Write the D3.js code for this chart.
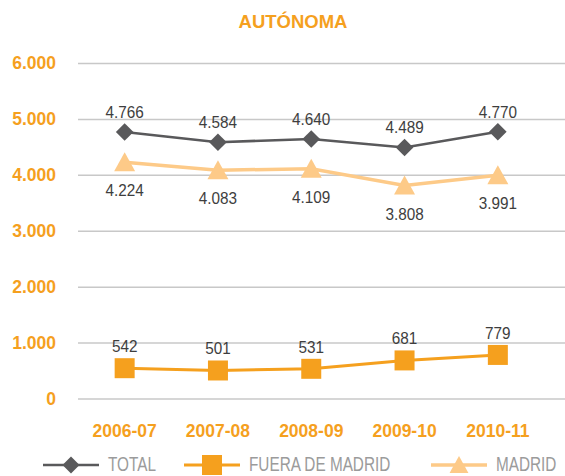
<!DOCTYPE html>
<html>
<head>
<meta charset="utf-8">
<script src="https://cdn.jsdelivr.net/npm/d3@7"></script>
<style>
  body { margin: 0; background: #fff; }
  svg { display: block; }
</style>
</head>
<body>
<div id="canvas"></div>
<script>
// chart data
var categories = ["2006-07", "2007-08", "2008-09", "2009-10", "2010-11"];
var total = [4766, 4584, 4640, 4489, 4770];
var fuera = [542, 501, 531, 681, 779];
var madrid = [4224, 4083, 4109, 3808, 3991];
var yTicks = [0, 1000, 2000, 3000, 4000, 5000, 6000];
var seriesNames = ["TOTAL", "FUERA DE MADRID", "MADRID"];

var W = 565, H = 476;
var ORANGE = "#F5A01E", DARK = "#59595B", LIGHT = "#FDCA88";
var FONT = "'Liberation Sans', Arial, sans-serif";

var es = d3.formatLocale({decimal: ",", thousands: ".", grouping: [3], currency: ["", "€"]});
var fmt = es.format(",d");

var svg = d3.select("#canvas").append("svg")
    .attr("width", W).attr("height", H);

var x = d3.scaleBand().domain(categories).range([78, 544.5]);
var y = d3.scaleLinear().domain([0, 6000]).range([398.5, 63]);
function cx(d, i) { return x(categories[i]) + x.bandwidth() / 2; }

// title
svg.append("text")
    .attr("x", 293).attr("y", 28)
    .attr("text-anchor", "middle")
    .attr("font-family", FONT)
    .attr("font-weight", "bold")
    .attr("font-size", 18.5)
    .attr("fill", ORANGE)
    .text("AUTÓNOMA");

// y axis + grid
var yAxis = svg.append("g")
    .attr("transform", "translate(78,0)")
    .call(d3.axisLeft(y).tickValues(yTicks).tickFormat(fmt).tickSize(-(W - 78)).tickPadding(22));
yAxis.select(".domain").remove();
yAxis.selectAll(".tick line").attr("stroke", "#C8C8C8").attr("stroke-width", 1.5);
yAxis.selectAll(".tick text")
    .attr("font-family", FONT)
    .attr("font-weight", "bold")
    .attr("font-size", 17.5)
    .attr("fill", ORANGE);

// x labels
var xAxis = svg.append("g")
    .attr("transform", "translate(0,398.5)")
    .call(d3.axisBottom(x).tickSize(0).tickPadding(26));
xAxis.select(".domain").remove();
xAxis.selectAll(".tick text")
    .attr("font-family", FONT)
    .attr("font-weight", "bold")
    .attr("font-size", 17.5)
    .attr("fill", ORANGE);

var line = d3.line().x(cx).y(function (d) { return y(d); });

function diamond(s) { return "M0," + (-s) + "L" + s + ",0L0," + s + "L" + (-s) + ",0Z"; }
function square(s) { return "M" + (-s) + "," + (-s) + "h" + (2 * s) + "v" + (2 * s) + "h" + (-2 * s) + "Z"; }
function triangle(s) { return "M0," + (-s) + "L" + (s * 1.05) + "," + (s * 0.9) + "L" + (-s * 1.05) + "," + (s * 0.9) + "Z"; }

var series = [
  {name: seriesNames[1], values: fuera, color: ORANGE, width: 3, shape: square, size: 10, labelDy: -16},
  {name: seriesNames[2], values: madrid, color: LIGHT, width: 3.5, shape: triangle, size: 10, labelDy: 34},
  {name: seriesNames[0], values: total, color: DARK, width: 2.6, shape: diamond, size: 8.8, labelDy: -14}
];

series.forEach(function (s) {
  var g = svg.append("g");
  g.append("path")
      .datum(s.values)
      .attr("d", line)
      .attr("fill", "none")
      .attr("stroke", s.color)
      .attr("stroke-width", s.width);
  g.selectAll("path.mark")
      .data(s.values)
      .enter().append("path")
      .attr("class", "mark")
      .attr("transform", function (d, i) { return "translate(" + cx(d, i) + "," + y(d) + ")"; })
      .attr("d", s.shape(s.size))
      .attr("fill", s.color);
  g.selectAll("text")
      .data(s.values)
      .enter().append("text")
      .attr("transform", function (d, i) {
        return "translate(" + cx(d, i) + "," + (y(d) + s.labelDy) + ") scale(0.9,1)";
      })
      .attr("text-anchor", "middle")
      .attr("font-family", FONT)
      .attr("font-size", 17)
      .attr("fill", "#3E3E3E")
      .text(function (d) { return fmt(d); });
});

// legend
var legendItems = [
  {name: seriesNames[0], color: DARK, width: 2.6, shape: diamond, size: 8.5, x: 43},
  {name: seriesNames[1], color: ORANGE, width: 3, shape: square, size: 10, x: 184},
  {name: seriesNames[2], color: LIGHT, width: 3.5, shape: triangle, size: 9, x: 431}
];
var lg = svg.append("g").attr("transform", "translate(0,465)");
legendItems.forEach(function (it) {
  var g = lg.append("g").attr("transform", "translate(" + it.x + ",0)");
  g.append("line").attr("x1", 0).attr("x2", 56)
      .attr("stroke", it.color).attr("stroke-width", it.width);
  g.append("path").attr("transform", "translate(28,0)")
      .attr("d", it.shape(it.size)).attr("fill", it.color);
  g.append("text")
      .attr("transform", "translate(65,6) scale(0.73,1)")
      .attr("font-family", FONT)
      .attr("font-size", 21)
      .attr("fill", "#9B9B9B")
      .text(it.name);
});
</script>
</body>
</html>
